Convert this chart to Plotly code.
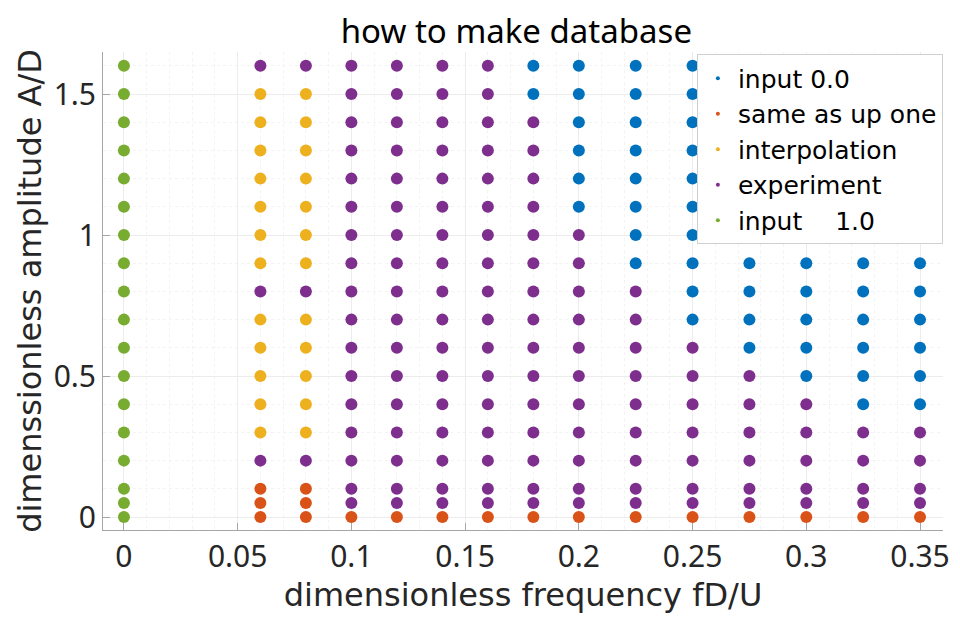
import plotly.graph_objects as go

# dimensionless frequency columns
freq = [0, 0.06, 0.08, 0.1, 0.12, 0.14, 0.16, 0.18, 0.2, 0.225, 0.25, 0.275, 0.3, 0.325, 0.35]
# dimensionless amplitude rows (bottom to top)
amp = [0, 0.05, 0.1, 0.2, 0.3, 0.4, 0.5, 0.6, 0.7, 0.8, 0.9, 1.0, 1.1, 1.2, 1.3, 1.4, 1.5, 1.6]
# category code per column, one char per amplitude row (bottom to top)
# B=input 0.0, R=same as up one, Y=interpolation, P=experiment, G=input 1.0
codes = [
    "GGGGGGGGGGGGGGGGGG",
    "RRRPYYYYYPYYYYYYYP",
    "RRRPYYYYYPYYYYYYYP",
    "RPPPPPPPPPPPPPPPPP",
    "RPPPPPPPPPPPPPPPPP",
    "RPPPPPPPPPPPPPPPPP",
    "RPPPPPPPPPPPPPPPPP",
    "RPPPPPPPPPPPPPPPBB",
    "RPPPPPPPPPPPBBBBBB",
    "RPPPPPPPPPBBBBBBBB",
    "RPPPPPPPBBBBBBBBBB",
    "RPPPPPPBBBBBBBBBBB",
    "RPPPPPBBBBBBBBBBBB",
    "RPPPPBBBBBBBBBBBBB",
    "RPPPPBBBBBBBBBBBBB",
]
cat_keys = ["B", "R", "Y", "P", "G"]
cat_names = ["input 0.0", "same as up one", "interpolation", "experiment", "input\u2003 1.0"]
cat_colors = ["#0072BD", "#D95319", "#EDB120", "#7E2F8E", "#77AC30"]
x_ticks = [0, 0.05, 0.1, 0.15, 0.2, 0.25, 0.3, 0.35]
x_ticktext = ["0", "0.05", "0.1", "0.15", "0.2", "0.25", "0.3", "0.35"]
y_ticks = [0, 0.5, 1, 1.5]
y_ticktext = ["0", "0.5", "1", "1.5"]

FONT = "Noto Sans"
FONT2 = "DejaVu Sans"
fig = go.Figure()

for key, name, color in zip(cat_keys, cat_names, cat_colors):
    xs, ys = [], []
    for fx, col in zip(freq, codes):
        for ay, c in zip(amp, col):
            if c == key:
                xs.append(fx)
                ys.append(ay)
    fig.add_trace(go.Scatter(
        x=xs, y=ys, mode="markers", name=name, legendgroup=name,
        showlegend=False,
        marker=dict(color=color, size=12, line=dict(width=0)),
    ))
    # legend entry with small dot
    fig.add_trace(go.Scatter(
        x=[None], y=[None], mode="markers", name=name, legendgroup=name,
        marker=dict(color=color, size=4),
    ))

fig.update_layout(
    width=952, height=609,
    margin=dict(l=95, r=10, t=44, b=87),
    paper_bgcolor="white", plot_bgcolor="white",
    font=dict(family=FONT, color="#262626"),
    title=dict(text="how to make database", x=0.534, xanchor="center",
               y=0.962, yanchor="middle", font=dict(size=33, color="black", family=FONT)),
    legend=dict(x=0.707, y=0.995, xanchor="left", yanchor="top",
                bgcolor="white", bordercolor="#d0d0d0", borderwidth=1,
                font=dict(size=25, color="black", family=FONT2),
                itemwidth=30, tracegroupgap=0),
    showlegend=True,
)

axis_common = dict(
    showline=True, linecolor="#a6a6a6", linewidth=1,
    ticks="inside", ticklen=7, tickcolor="#a6a6a6",
    showgrid=True, gridcolor="#ececec", gridwidth=1,
    zeroline=False, mirror=False,
    tickfont=dict(size=30, color="#262626", family=FONT),
)

fig.update_xaxes(
    range=[-0.0092, 0.3601], tickvals=x_ticks, ticktext=x_ticktext,
    minor=dict(dtick=0.01, tick0=0, showgrid=True, gridcolor="#f3f3f3", griddash="dot", ticks=""),
    title=dict(text="dimensionless frequency fD/U", font=dict(size=32, color="#262626", family=FONT2), standoff=4),
    **axis_common,
)
fig.update_yaxes(
    range=[-0.046, 1.649], tickvals=y_ticks, ticktext=y_ticktext,
    minor=dict(dtick=0.1, tick0=0, showgrid=True, gridcolor="#f3f3f3", griddash="dot", ticks=""),
    title=dict(text="dimenssionless amplitude A/D", font=dict(size=32, color="#262626", family=FONT2), standoff=2),
    **axis_common,
)

fig.write_html("out.html")
